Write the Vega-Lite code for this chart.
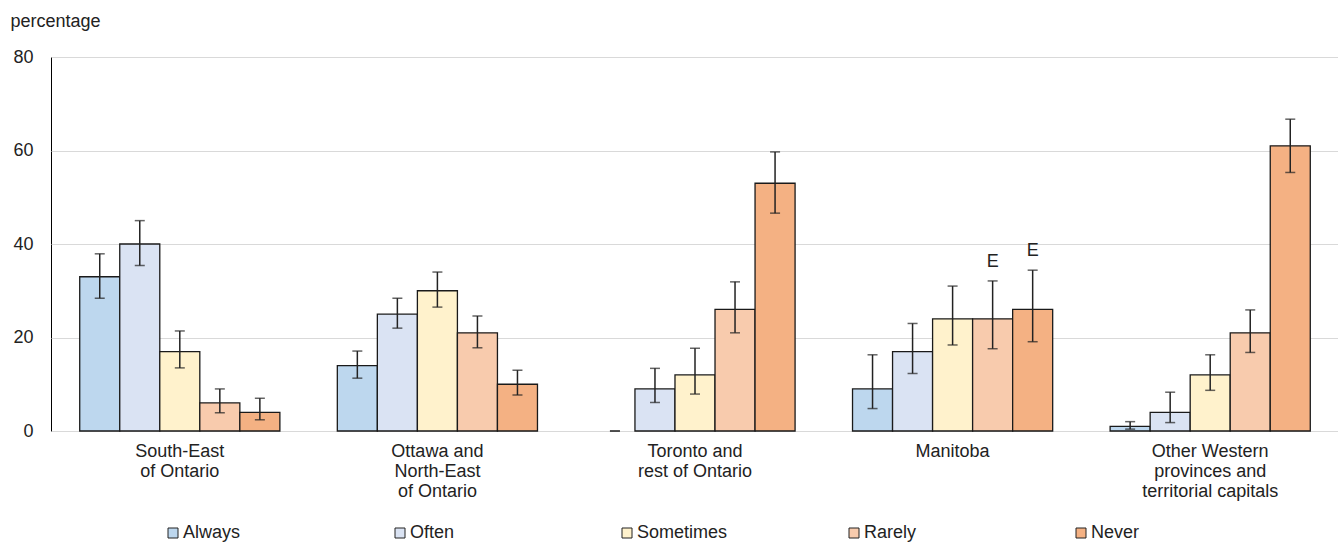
{
  "$schema": "https://vega.github.io/schema/vega-lite/v6.json",
  "width": 1288,
  "height": 374,
  "autosize": "none",
  "padding": {"left": 51, "top": 57, "right": 0, "bottom": 111},
  "config": {
    "font": "Liberation Sans",
    "view": {"stroke": "#000", "strokeWidth": 1},
    "axis": {"labelFontSize": 18, "labelColor": "#222", "titleColor": "#222"}
  },
  "data": {
    "values": [
      {"region": "South-East of Ontario", "freq": "Always", "value": 33, "lo": 28.4, "hi": 37.9, "flag": ""},
      {"region": "South-East of Ontario", "freq": "Often", "value": 40, "lo": 35.4, "hi": 45.0, "flag": ""},
      {"region": "South-East of Ontario", "freq": "Sometimes", "value": 17, "lo": 13.5, "hi": 21.4, "flag": ""},
      {"region": "South-East of Ontario", "freq": "Rarely", "value": 6, "lo": 3.9, "hi": 9.0, "flag": ""},
      {"region": "South-East of Ontario", "freq": "Never", "value": 4, "lo": 2.4, "hi": 7.0, "flag": ""},
      {"region": "Ottawa and North-East of Ontario", "freq": "Always", "value": 14, "lo": 11.3, "hi": 17.1, "flag": ""},
      {"region": "Ottawa and North-East of Ontario", "freq": "Often", "value": 25, "lo": 22.0, "hi": 28.4, "flag": ""},
      {"region": "Ottawa and North-East of Ontario", "freq": "Sometimes", "value": 30, "lo": 26.5, "hi": 34.0, "flag": ""},
      {"region": "Ottawa and North-East of Ontario", "freq": "Rarely", "value": 21, "lo": 17.8, "hi": 24.6, "flag": ""},
      {"region": "Ottawa and North-East of Ontario", "freq": "Never", "value": 10, "lo": 7.7, "hi": 13.0, "flag": ""},
      {"region": "Toronto and rest of Ontario", "freq": "Always", "value": 0, "lo": 0, "hi": 0, "flag": ""},
      {"region": "Toronto and rest of Ontario", "freq": "Often", "value": 9, "lo": 6.1, "hi": 13.4, "flag": ""},
      {"region": "Toronto and rest of Ontario", "freq": "Sometimes", "value": 12, "lo": 7.9, "hi": 17.7, "flag": ""},
      {"region": "Toronto and rest of Ontario", "freq": "Rarely", "value": 26, "lo": 21.0, "hi": 31.9, "flag": ""},
      {"region": "Toronto and rest of Ontario", "freq": "Never", "value": 53, "lo": 46.6, "hi": 59.7, "flag": ""},
      {"region": "Manitoba", "freq": "Always", "value": 9, "lo": 4.8, "hi": 16.3, "flag": ""},
      {"region": "Manitoba", "freq": "Often", "value": 17, "lo": 12.3, "hi": 23.0, "flag": ""},
      {"region": "Manitoba", "freq": "Sometimes", "value": 24, "lo": 18.4, "hi": 31.0, "flag": ""},
      {"region": "Manitoba", "freq": "Rarely", "value": 24, "lo": 17.6, "hi": 32.1, "flag": "E"},
      {"region": "Manitoba", "freq": "Never", "value": 26, "lo": 19.1, "hi": 34.4, "flag": "E"},
      {"region": "Other Western provinces and territorial capitals", "freq": "Always", "value": 1, "lo": 0.4, "hi": 2.0, "flag": ""},
      {"region": "Other Western provinces and territorial capitals", "freq": "Often", "value": 4, "lo": 1.8, "hi": 8.3, "flag": ""},
      {"region": "Other Western provinces and territorial capitals", "freq": "Sometimes", "value": 12, "lo": 8.7, "hi": 16.3, "flag": ""},
      {"region": "Other Western provinces and territorial capitals", "freq": "Rarely", "value": 21, "lo": 16.8, "hi": 25.9, "flag": ""},
      {"region": "Other Western provinces and territorial capitals", "freq": "Never", "value": 61, "lo": 55.3, "hi": 66.7, "flag": ""}
    ]
  },
  "encoding": {
    "x": {
      "field": "region",
      "type": "nominal",
      "sort": null,
      "scale": {"paddingInner": 0.223, "paddingOuter": 0.1115},
      "axis": {
        "title": null,
        "labelAngle": 0,
        "ticks": false,
        "domain": false,
        "labelPadding": 11,
        "labelBaseline": "top",
        "labelLineHeight": 20,
        "labelLimit": 300,
        "labelExpr": "datum.label == 'South-East of Ontario' ? ['South-East','of Ontario'] : datum.label == 'Ottawa and North-East of Ontario' ? ['Ottawa and','North-East','of Ontario'] : datum.label == 'Toronto and rest of Ontario' ? ['Toronto and','rest of Ontario'] : datum.label == 'Other Western provinces and territorial capitals' ? ['Other Western','provinces and','territorial capitals'] : datum.label"
      }
    },
    "xOffset": {
      "field": "freq",
      "type": "nominal",
      "sort": ["Always", "Often", "Sometimes", "Rarely", "Never"],
      "scale": {"domain": ["Always", "Often", "Sometimes", "Rarely", "Never"], "paddingInner": 0, "paddingOuter": 0}
    }
  },
  "layer": [
    {
      "transform": [{"filter": "datum.value > 0"}],
      "mark": {"type": "bar", "stroke": "#1a1a1a", "strokeWidth": 1.3},
      "encoding": {
        "y": {
          "field": "value",
          "type": "quantitative",
          "scale": {"domain": [0, 80]},
          "axis": {
            "values": [0, 20, 40, 60, 80],
            "ticks": false,
            "domain": false,
            "gridColor": "#d9d9d9",
            "gridWidth": 1,
            "labelPadding": 18,
            "title": "percentage",
            "titleAngle": 0,
            "titleAlign": "left",
            "titleBaseline": "middle",
            "titleFontSize": 18,
            "titleFontWeight": "normal",
            "titleX": -41,
            "titleY": -36
          }
        },
        "color": {
          "field": "freq",
          "type": "nominal",
          "sort": ["Always", "Often", "Sometimes", "Rarely", "Never"],
          "scale": {
            "domain": ["Always", "Often", "Sometimes", "Rarely", "Never"],
            "range": ["#BDD7EE", "#DAE3F3", "#FFF2CC", "#F8CBAD", "#F4B183"]
          },
          "legend": {
            "title": null,
            "orient": "none",
            "legendX": 113,
            "legendY": 467,
            "direction": "horizontal",
            "columns": 5,
            "gridAlign": "all",
            "columnPadding": 117,
            "symbolType": "square",
            "symbolSize": 100,
            "symbolStrokeColor": "#222",
            "symbolStrokeWidth": 1,
            "symbolOpacity": 1,
            "labelFontSize": 18,
            "labelColor": "#222",
            "labelOffset": 1
          }
        }
      }
    },
    {
      "mark": {"type": "rule", "color": "#222", "strokeWidth": 1.5},
      "encoding": {
        "y": {"field": "lo", "type": "quantitative"},
        "y2": {"field": "hi"}
      }
    },
    {
      "mark": {"type": "tick", "color": "#222", "size": 10, "thickness": 1.5},
      "encoding": {"y": {"field": "lo", "type": "quantitative"}}
    },
    {
      "mark": {"type": "tick", "color": "#222", "size": 10, "thickness": 1.5},
      "encoding": {"y": {"field": "hi", "type": "quantitative"}}
    },
    {
      "transform": [{"filter": "datum.flag != ''"}],
      "mark": {"type": "text", "fontSize": 18, "color": "#222", "baseline": "alphabetic", "dy": -14},
      "encoding": {
        "y": {"field": "hi", "type": "quantitative"},
        "text": {"field": "flag"}
      }
    }
  ]
}
